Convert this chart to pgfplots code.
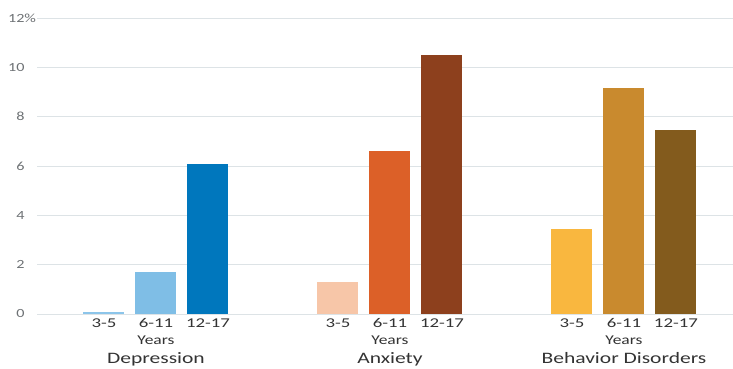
\documentclass[border=0pt]{standalone}
\usepackage{pgfplots}
\pgfplotsset{compat=1.18}
\usepackage{fontspec}
\setmainfont{Carlito}
\newfontfamily\wf[FakeStretch=1.4]{Carlito}
\newfontfamily\wt[FakeStretch=1.3]{Carlito}
\newfontfamily\wg[FakeStretch=1.35]{Carlito}
\definecolor{dep1}{HTML}{8CC5EA}
\definecolor{dep2}{HTML}{7FBEE6}
\definecolor{dep3}{HTML}{0077BD}
\definecolor{anx1}{HTML}{F7C6A8}
\definecolor{anx2}{HTML}{DC6028}
\definecolor{anx3}{HTML}{8D401D}
\definecolor{beh1}{HTML}{F9B73F}
\definecolor{beh2}{HTML}{C98A2E}
\definecolor{beh3}{HTML}{835B1D}
\definecolor{gridc}{HTML}{DDE3E6}
\definecolor{tickc}{HTML}{6E7275}
\definecolor{labc}{HTML}{333333}
\begin{document}
\begin{tikzpicture}
\useasboundingbox (-37bp,-55bp) rectangle (696bp,314bp);
\begin{axis}[
  at={(0,0)}, anchor=south west,
  scale only axis, width=696bp, height=296bp,
  xmin=-1.288, xmax=12.097, ymin=0, ymax=12,
  ybar, bar width=41bp, bar shift=0pt,
  axis line style={draw=none},
  major tick length=0pt,
  ytick={0,2,4,6,8,10,12},
  yticklabels={0,2,4,6,8,10,12\rlap{\%}},
  yticklabel style={font=\wt\fontsize{12.5}{14}\selectfont, text=tickc, anchor=east, xshift=-9bp},
  ymajorgrids, grid style={gridc, line width=0.8bp},
  xtick={0,1,2,4.5,5.5,6.5,9,10,11},
  xticklabels={3-5,6-11,12-17,3-5,6-11,12-17,3-5,6-11,12-17},
  xticklabel style={font=\wf\fontsize{13.5}{15}\selectfont, text=labc, anchor=base, yshift=-13bp},
  clip=false,
  /pgf/number format/assume math mode=true,
]
\addplot[fill=dep1, draw=none] coordinates {(0,0.1)};
\addplot[fill=dep2, draw=none] coordinates {(1,1.7)};
\addplot[fill=dep3, draw=none] coordinates {(2,6.1)};
\addplot[fill=anx1, draw=none] coordinates {(4.5,1.3)};
\addplot[fill=anx2, draw=none] coordinates {(5.5,6.6)};
\addplot[fill=anx3, draw=none] coordinates {(6.5,10.5)};
\addplot[fill=beh1, draw=none] coordinates {(9,3.45)};
\addplot[fill=beh2, draw=none] coordinates {(10,9.15)};
\addplot[fill=beh3, draw=none] coordinates {(11,7.45)};
\node[font=\wt\fontsize{13.5}{15}\selectfont, text=labc, anchor=base, inner sep=0pt] at (axis cs:1,0) [yshift=-30bp] {Years};
\node[font=\wt\fontsize{13.5}{15}\selectfont, text=labc, anchor=base, inner sep=0pt] at (axis cs:5.5,0) [yshift=-30bp] {Years};
\node[font=\wt\fontsize{13.5}{15}\selectfont, text=labc, anchor=base, inner sep=0pt] at (axis cs:10,0) [yshift=-30bp] {Years};
\node[font=\wg\fontsize{16}{18}\selectfont, text=labc, anchor=base, inner sep=0pt] at (axis cs:1,0) [yshift=-49bp] {Depression};
\node[font=\wg\fontsize{16}{18}\selectfont, text=labc, anchor=base, inner sep=0pt] at (axis cs:5.5,0) [yshift=-49bp] {Anxiety};
\node[font=\wg\fontsize{16}{18}\selectfont, text=labc, anchor=base, inner sep=0pt] at (axis cs:10,0) [yshift=-49bp] {Behavior Disorders};
\end{axis}
\end{tikzpicture}
\end{document}
